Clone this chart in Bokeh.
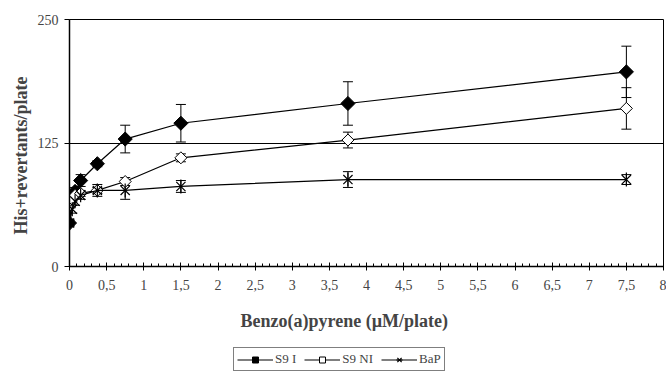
import math
from bokeh.plotting import figure
from bokeh.layouts import column
from bokeh.models import (ColumnDataSource, Whisker, TeeHead, FixedTicker,
                          Legend, LegendItem, Range1d, Title)
from bokeh.embed import file_html
from bokeh.resources import INLINE

# ---- data ----
doses = [0, 0.0375, 0.075, 0.15, 0.375, 0.75, 1.5, 3.75, 7.5]
s9i = [44, 70, 76, 87, 104, 129, 145, 165, 197]
s9i_err = [3, 4, 4, 6, 3, 14, 19, 22, 26]
s9ni = [62, 68, 72, 74, 77, 86, 110, 128, 160]
s9ni_err = [3, 3, 3, 3, 3, 4, 4, 8, 21]
bap = [44, 58, 66, 72, 77, 77, 81, 88, 88]
bap_err = [3, 4, 4, 4, 6, 9, 6, 8, 5]

x_ticks = [0, 0.5, 1, 1.5, 2, 2.5, 3, 3.5, 4, 4.5, 5, 5.5, 6, 6.5, 7, 7.5, 8]
x_tick_labels = ["0", "0,5", "1", "1,5", "2", "2,5", "3", "3,5", "4", "4,5",
                 "5", "5,5", "6", "6,5", "7", "7,5", "8"]
x_minor = [i / 10 for i in range(0, 81)]
y_ticks = [0, 125, 250]

series_names = ["S9 I", "S9 NI", "BaP"]
x_title = "Benzo(a)pyrene (\u00b5M/plate)"
y_title = "His+revertants/plate"

FONT = "Liberation Serif"

p = figure(width=666, height=347,
           x_range=Range1d(0, 8), y_range=Range1d(0, 250),
           output_backend="svg", toolbar_location=None,
           min_border_left=69, min_border_right=3, min_border_top=19,
           min_border_bottom=80)
p.background_fill_color = "white"
p.border_fill_color = "white"
p.outline_line_color = "black"
p.outline_line_width = 1

# axes
xa = p.xaxis[0]
xa.ticker = FixedTicker(ticks=x_ticks, minor_ticks=x_minor)
xa.major_label_overrides = {t: l for t, l in zip(x_ticks, x_tick_labels)}
xa.major_tick_in = 4
xa.major_tick_out = 4
xa.minor_tick_in = 3
xa.minor_tick_out = 0
xa.axis_line_width = 1.5
xa.major_tick_line_width = 1
xa.minor_tick_line_width = 1
xa.major_label_text_font = FONT
xa.major_label_text_font_size = "14px"
xa.major_label_standoff = 9

ya = p.yaxis[0]
ya.ticker = FixedTicker(ticks=y_ticks)
ya.major_tick_in = 0
ya.major_tick_out = 5
ya.minor_tick_in = 0
ya.minor_tick_out = 0
ya.axis_line_width = 1.5
ya.major_label_text_font = FONT
ya.major_label_text_font_size = "14px"
ya.major_label_standoff = 6

xt = Title(text=x_title, align="left", offset=171, standoff=33,
           text_font=FONT, text_font_style="bold", text_font_size="18px")
p.add_layout(xt, "below")
yt = Title(text=y_title, align="left", offset=32, standoff=8,
           text_font=FONT, text_font_style="bold", text_font_size="18px")
p.add_layout(yt, "left")

p.xgrid.visible = False
p.ygrid.ticker = FixedTicker(ticks=[125, 250])
p.ygrid.grid_line_color = "black"
p.ygrid.grid_line_width = 1

def up(v, e):
    return [a + b for a, b in zip(v, e)]

def lo(v, e):
    return [a - b for a, b in zip(v, e)]

# legend strip (its renderers share the data but lie outside its view)
p2 = figure(width=666, height=24, x_range=Range1d(0, 1), y_range=Range1d(-1, 0),
            output_backend="svg", toolbar_location=None, min_border=0,
            x_axis_location=None, y_axis_location=None)
p2.outline_line_color = None
p2.grid.visible = False
p2.background_fill_color = "white"
p2.border_fill_color = "white"

items = []
data = [(s9i, s9i_err), (s9ni, s9ni_err), (bap, bap_err)]
for i, (vals, errs) in enumerate(data):
    src = ColumnDataSource(dict(x=doses, y=vals, upper=up(vals, errs), lower=lo(vals, errs)))
    w = Whisker(source=src, base="x", upper="upper", lower="lower",
                line_color="black", line_width=1,
                upper_head=TeeHead(size=10, line_color="black", line_width=1),
                lower_head=TeeHead(size=10, line_color="black", line_width=1))
    p.add_layout(w)
    lkw = dict(line_color="black", line_width=1.2)
    p.line("x", "y", source=src, **lkw)
    rends = [p2.line("x", "y", source=src, **lkw)]
    if i == 0:
        kw = dict(marker="square", angle=math.pi / 4, size=10,
                  fill_color="black", line_color="black")
        p.scatter("x", "y", source=src, **kw)
        rends.append(p2.scatter("x", "y", source=src, **kw))
    elif i == 1:
        kw = dict(marker="square", angle=math.pi / 4, size=8.5,
                  fill_color="white", line_color="black", line_width=1)
        p.scatter("x", "y", source=src, **kw)
        rends.append(p2.scatter("x", "y", source=src, **kw))
    else:
        kw1 = dict(marker="x", size=13, line_color="black", line_width=1.2)
        kw2 = dict(marker="dash", angle=math.pi / 2, size=14,
                   line_color="black", line_width=1.2)
        p.scatter("x", "y", source=src, **kw1)
        p.scatter("x", "y", source=src, **kw2)
        rends.append(p2.scatter("x", "y", source=src, **kw1))
        rends.append(p2.scatter("x", "y", source=src, **kw2))
    items.append(LegendItem(label=series_names[i], renderers=rends))

legend = Legend(items=items, orientation="horizontal", location=(164, 0))
legend.border_line_color = "black"
legend.border_line_width = 1
legend.background_fill_color = "white"
legend.label_text_font = FONT
legend.label_text_font_size = "13px"
legend.glyph_width = 36
legend.glyph_height = 15
legend.label_height = 12
legend.label_standoff = 2
legend.spacing = 8
legend.padding = 3
legend.margin = 0
p2.add_layout(legend)

layout = column(p, p2, spacing=0)
open("out.html", "w").write(file_html(layout, INLINE))
